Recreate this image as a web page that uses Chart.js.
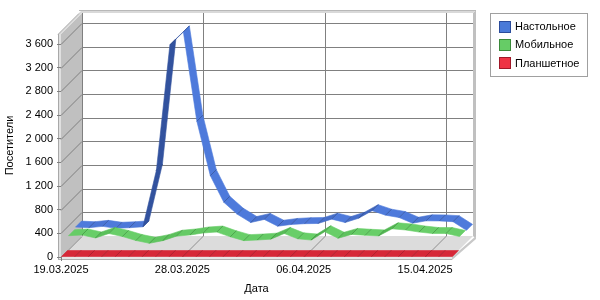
<!DOCTYPE html>
<html><head><meta charset="utf-8">
<script src="https://cdn.jsdelivr.net/npm/chart.js@4.4.1/dist/chart.umd.min.js"></script>
<style>html,body{margin:0;padding:0;background:#fff}#wrap{width:600px;height:300px}</style>
</head><body><div id="wrap"><canvas id="c" width="600" height="300"></canvas></div>
<script>
// ---- data ----
const dates = ['19.03.2025','20.03.2025','21.03.2025','22.03.2025','23.03.2025','24.03.2025','25.03.2025','26.03.2025','27.03.2025','28.03.2025',
  '29.03.2025','30.03.2025','31.03.2025','01.04.2025','02.04.2025','03.04.2025','04.04.2025','05.04.2025','06.04.2025','07.04.2025',
  '08.04.2025','09.04.2025','10.04.2025','11.04.2025','12.04.2025','13.04.2025','14.04.2025','15.04.2025','16.04.2025','17.04.2025'];
const labeledDates = ['19.03.2025','28.03.2025','06.04.2025','15.04.2025'];
const desktop = [260,250,273,240,250,265,1220,3340,3560,2050,1130,680,478,338,390,275,305,318,322,395,338,410,538,462,422,326,366,365,352,205];
const mobile  = [233,245,195,270,220,152,105,150,225,245,280,295,215,150,160,175,270,180,160,300,190,255,240,230,350,330,295,270,270,220];
const tablet  = [0,0,0,0,0,0,0,0,0,0,0,0,0,0,0,0,0,0,0,0,0,0,0,0,0,0,0,0,0,0];
const seriesNames = ['Настольное','Мобильное','Планшетное'];
const yTickValues = [0,400,800,1200,1600,2000,2400,2800,3200,3600];
const yMax = 3770;

// ---- styles ----
const DEPTH = 21, TH = 3;
const styles = [
  {light:[78,122,219], dark:[50,82,158], legend:'#4a7ad8', legendBorder:'#2b4c9c', zc:17.5},
  {light:[104,206,104], dark:[60,158,60], legend:'#66cc66', legendBorder:'#3a8a3a', zc:10.5},
  {light:[214,40,56], dark:[175,28,42], legend:'#ee3344', legendBorder:'#a01828', zc:3.5}
];
const HALF = 3;
const FONT = "'Liberation Sans', Arial, sans-serif";
Chart.defaults.font.family = FONT;
Chart.defaults.font.size = 11;
Chart.defaults.color = '#000';

function fmt(v){ return String(v).replace(/\B(?=(\d{3})+(?!\d))/g, ' '); }
function poly(ctx, pts, fill, stroke){
  ctx.beginPath(); ctx.moveTo(pts[0][0], pts[0][1]);
  for (let i=1;i<pts.length;i++) ctx.lineTo(pts[i][0], pts[i][1]);
  ctx.closePath();
  if (fill){ ctx.fillStyle = fill; ctx.fill(); }
  if (stroke){ ctx.strokeStyle = stroke; ctx.lineWidth = 1; ctx.stroke(); }
}
function line(ctx, x1,y1,x2,y2,color){
  ctx.beginPath(); ctx.moveTo(x1,y1); ctx.lineTo(x2,y2);
  ctx.strokeStyle = color; ctx.lineWidth = 1; ctx.stroke();
}

const wallsPlugin = {
  id:'walls',
  beforeDraw(chart){
    const ctx = chart.ctx, ca = chart.chartArea, xs = chart.scales.x, ys = chart.scales.y;
    const L = ca.left, R = ca.right, T = ca.top, B = ca.bottom, D = DEPTH;
    ctx.save();
    // back wall
    ctx.fillStyle = '#fff'; ctx.fillRect(L+D, T-D, R-L, B-T);
    // back wall right face
    poly(ctx, [[R+D,T-D],[R+D+TH,T-D-TH],[R+D+TH,B-D+TH],[R+D,B-D]], '#c0c0c0', null);
    // back wall top face
    poly(ctx, [[L+D-TH,T-D],[R+D,T-D],[R+D+TH,T-D-TH],[L+D,T-D-TH]], '#d9d9d9', null);
    // side wall inner face
    poly(ctx, [[L,B],[L,T],[L+D,T-D],[L+D,B-D]], '#c0c0c0', null);
    // side wall top face
    poly(ctx, [[L-TH,T],[L,T],[L+D,T-D],[L+D-TH,T-D]], '#dcdcdc', null);
    // side wall front face
    ctx.fillStyle = '#e0e0e0'; ctx.fillRect(L-TH, T, TH, B-T+TH);
    // floor
    poly(ctx, [[L,B],[R,B],[R+D,B-D],[L+D,B-D]], '#dcdcdc', null);
    // floor front face and right face
    ctx.fillStyle = '#e6e6e6'; ctx.fillRect(L-TH, B, R-L+TH, TH);
    poly(ctx, [[R,B],[R+D+TH,B-D-TH+TH],[R+D+TH,B-D+TH],[R,B+TH]], '#c8c8c8', null);
    // outlines
    ctx.lineWidth = 1;
    line(ctx, L-TH+0.5, T, L-TH+0.5, B+TH, '#a8a8a8');
    line(ctx, L-TH, T+0.5, L+D-TH, T-D+0.5, '#b0b0b0');
    line(ctx, L+D-TH, T-D-TH+0.5, R+D+TH, T-D-TH+0.5, '#b8b8b8');
    line(ctx, L-TH, B+TH-0.5, R, B+TH-0.5, '#b0b0b0');
    // grid: horizontal
    const gc = '#808080';
    yTickValues.forEach(v => {
      const y = Math.round(ys.getPixelForValue(v)) + 0.5;
      line(ctx, L, y, L+D, y-D, gc);
      if (v > 0) line(ctx, L+D, y-D, R+D, y-D, gc);
    });
    // grid: vertical
    dates.forEach((d,i) => {
      if (labeledDates.indexOf(d) < 0) return;
      const x = Math.round(xs.getPixelForValue(i)) + 0.5;
      if (i > 0){
        line(ctx, x+D, T-D, x+D, B-D, gc);
        line(ctx, x, B, x+D, B-D, '#909090');
      }
    });
    line(ctx, L+D+0.5, T-D, L+D+0.5, B-D, gc);
    ctx.restore();
  },
  afterDatasetsDraw(chart){
    const ctx = chart.ctx, xs = chart.scales.x, ys = chart.scales.y;
    ctx.save();
    chart.data.datasets.forEach((ds, si) => {
      const st = styles[si];
      const zf = st.zc - HALF, zb = st.zc + HALF;
      const pts = ds.data.map((v,i) => [xs.getPixelForValue(i), ys.getPixelForValue(v)]);
      for (let k=0;k<pts.length-1;k++){
        const [x1,y1] = pts[k], [x2,y2] = pts[k+1];
        const sw = -(y2-y1)/(x2-x1);
        const m = Math.max(0, Math.min(1, sw*0.9));
        const c = st.light.map((a,j)=>Math.round(a + (st.dark[j]-a)*m));
        const col = `rgb(${c[0]},${c[1]},${c[2]})`;
        poly(ctx, [[x1+zf,y1-zf],[x2+zf,y2-zf],[x2+zb,y2-zb],[x1+zb,y1-zb]], col, null);
        ctx.strokeStyle = col; ctx.lineWidth = 0.6; ctx.stroke();
      }
      const dk = st.dark.map(a=>Math.round(a*0.8));
      const jc = `rgba(${dk[0]},${dk[1]},${dk[2]},0.55)`;
      for (let k=1;k<pts.length-1;k++){
        const [x,y] = pts[k];
        line(ctx, x+zf, y-zf, x+zb, y-zb, jc);
      }
    });
    ctx.restore();
  },
  afterDraw(chart){
    const ctx = chart.ctx;
    ctx.save();
    const bx = 490, by = 13, bw = 97, bh = 63;
    ctx.fillStyle = '#fff'; ctx.fillRect(bx, by, bw, bh);
    ctx.strokeStyle = '#a0a0a0'; ctx.lineWidth = 1; ctx.strokeRect(bx+0.5, by+0.5, bw, bh);
    ctx.font = `11px ${FONT}`; ctx.textBaseline = 'middle'; ctx.textAlign = 'left';
    chart.data.datasets.forEach((ds, i) => {
      const cy = 26.5 + i*18.4;
      const st = styles[i];
      ctx.fillStyle = st.legend; ctx.fillRect(499, Math.round(cy-6), 12, 12);
      ctx.strokeStyle = st.legendBorder; ctx.strokeRect(499.5, Math.round(cy-6)+0.5, 11, 11);
      ctx.fillStyle = '#000'; ctx.fillText(ds.label, 515, cy+0.5);
    });
    ctx.restore();
  }
};

new Chart(document.getElementById('c'), {
  type:'line',
  data:{
    labels: dates,
    datasets:[
      {label:seriesNames[0], data:desktop, showLine:false, pointRadius:0, borderColor:'#4a7ad8', backgroundColor:'#4a7ad8'},
      {label:seriesNames[1], data:mobile, showLine:false, pointRadius:0, borderColor:'#66cc66', backgroundColor:'#66cc66'},
      {label:seriesNames[2], data:tablet, showLine:false, pointRadius:0, borderColor:'#ee3344', backgroundColor:'#ee3344'}
    ]
  },
  options:{
    responsive:false, animation:false,
    layout:{padding:{left:0, top:34, right:148, bottom:0}},
    plugins:{legend:{display:false}, tooltip:{enabled:false}},
    events:[],
    scales:{
      x:{
        type:'category', offset:false,
        grid:{display:true, drawOnChartArea:false, drawTicks:true, tickLength:4,
          color: c => (c.tick && labeledDates.indexOf(dates[c.index]) >= 0) ? '#808080' : 'rgba(0,0,0,0)'},
        border:{display:false},
        ticks:{autoSkip:false, maxRotation:0, minRotation:0, padding:2,
          callback:(v,i) => labeledDates.indexOf(dates[i]) >= 0 ? dates[i] : null},
        title:{display:true, text:'Дата', padding:{top:0, bottom:4}},
        afterFit: s => { s.height = 43; }
      },
      y:{
        min:0, max:yMax,
        grid:{display:true, drawOnChartArea:false, drawTicks:true, tickLength:4, color:'#808080'},
        border:{display:false},
        afterBuildTicks: s => { s.ticks = yTickValues.map(v => ({value:v})); },
        ticks:{padding:4, callback: v => fmt(v)},
        title:{display:true, text:'Посетители', padding:{top:3, bottom:0}},
        afterFit: s => { s.width = 61; }
      }
    }
  },
  plugins:[wallsPlugin]
});
</script>
</body></html>
